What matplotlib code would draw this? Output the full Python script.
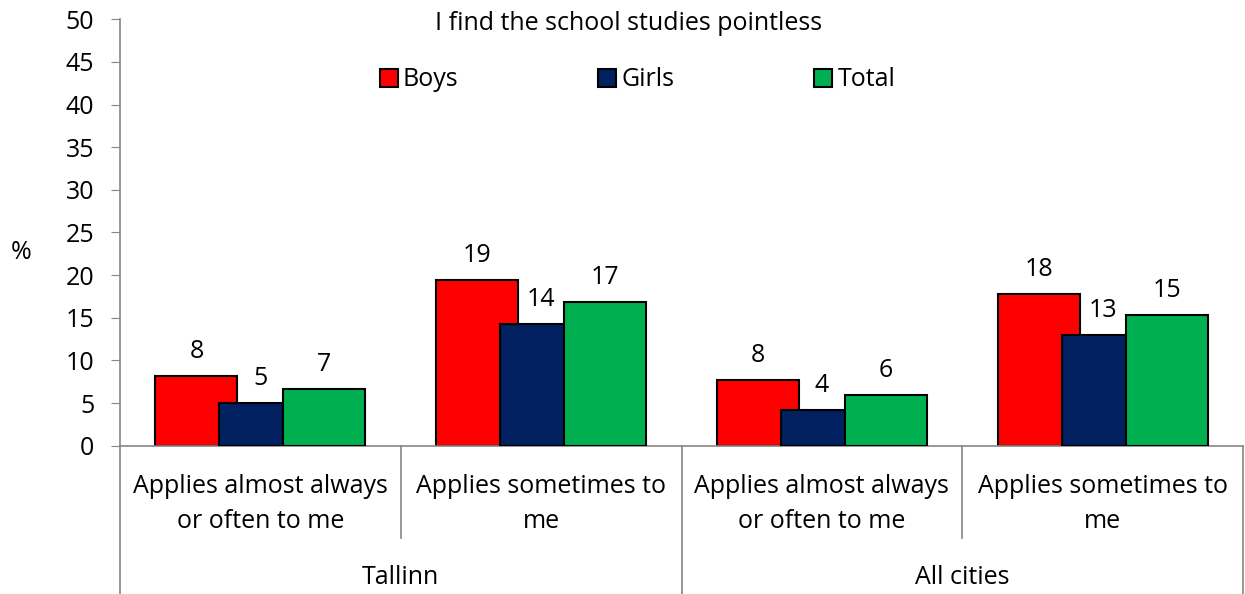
import matplotlib
matplotlib.use("Agg")
import matplotlib.pyplot as plt
from matplotlib.transforms import blended_transform_factory
import numpy as np

plt.rcParams['font.family'] = ['Open Sans', 'DejaVu Sans']

title = "I find the school studies pointless"
series = ["Boys", "Girls", "Total"]
colors = ["#FF0000", "#002060", "#00B050"]
subcategories = ["Applies almost always\nor often to me", "Applies sometimes to\nme",
                 "Applies almost always\nor often to me", "Applies sometimes to\nme"]
groups = ["Tallinn", "All cities"]
boys = [8.2, 19.4, 7.7, 17.8]
girls = [5.0, 14.3, 4.2, 13.0]
total = [6.6, 16.8, 5.9, 15.3]
yticks = [0, 5, 10, 15, 20, 25, 30, 35, 40, 45, 50]

values = [boys, girls, total]
FS = 18
GRAY = "#868686"

fig = plt.figure(figsize=(12.45, 5.94), dpi=100)
ax = fig.add_axes([0.0964, 0.2497, 0.902, 0.7178])

x = np.arange(len(subcategories))
width = 0.292
step = 0.228
bars_all = []
for i, (name, vals, col) in enumerate(zip(series, values, colors)):
    bars = ax.bar(x + (i - 1) * step, vals, width, color=col, edgecolor="black",
                  linewidth=1.5, label=name, zorder=2 + i)
    bars_all.append(bars)
    for rect, v in zip(bars, vals):
        ax.annotate(f"{v:.0f}", (rect.get_x() + rect.get_width() / 2, v),
                    xytext=(0, 13), textcoords="offset points",
                    ha="center", va="baseline", fontsize=FS)

ax.set_xlim(-0.5, len(subcategories) - 0.5)
ax.set_ylim(0, 50)
ax.set_yticks(yticks)
ax.tick_params(axis="y", labelsize=FS, length=6.5, color=GRAY, pad=12)
ax.set_xticks([])
for s in ["top", "right"]:
    ax.spines[s].set_visible(False)
for s in ["left", "bottom"]:
    ax.spines[s].set_color(GRAY)
    ax.spines[s].set_linewidth(1.2)

ax.text(-0.088, 0.454, "%", transform=ax.transAxes, fontsize=FS, ha="center", va="center")

# multi-level category axis
tr = blended_transform_factory(ax.transData, ax.transAxes)
line_y = [-0.111, -0.193]
for xi, lab in zip(x, subcategories):
    for ly, part in zip(line_y, lab.split("\n")):
        ax.text(xi, ly, part, transform=tr, ha="center", va="baseline", fontsize=FS)
for gi, g in enumerate(groups):
    ax.text(2 * gi + 0.5, -0.324, g, transform=tr, ha="center", va="baseline", fontsize=FS)

# separators between categories
for b in [0.5, 2.5]:
    ax.plot([b, b], [0, -0.2165], transform=tr, color=GRAY, lw=1.2, clip_on=False)
for b in [-0.5, 1.5, 3.5]:
    ax.plot([b, b], [0, -0.40], transform=tr, color=GRAY, lw=1.2, clip_on=False)

fig.text(629 / 1245, 1 - 30 / 594, title, ha="center", va="baseline", fontsize=FS)

leg = fig.legend(handles=[b[0] for b in bars_all], labels=series, ncol=3,
                 loc="center", bbox_to_anchor=(637.5 / 1245, 1 - 80 / 594),
                 frameon=False, fontsize=FS, handlelength=0.72, handleheight=0.72,
                 handletextpad=0.2, columnspacing=5.6, borderpad=0, borderaxespad=0)

fig.savefig("out.png", dpi=100)
